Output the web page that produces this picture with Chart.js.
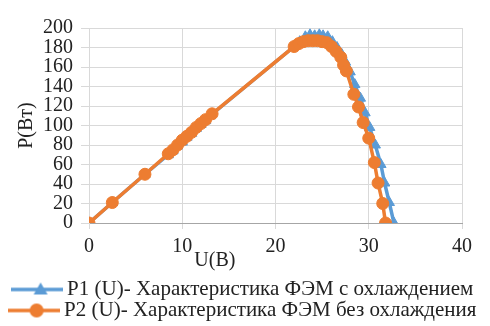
<!DOCTYPE html>
<html>
<head>
<meta charset="utf-8">
<script src="https://cdn.jsdelivr.net/npm/chart.js@4"></script>
<style>
  html, body { margin: 0; padding: 0; background: #fff; }
</style>
</head>
<body>
<canvas id="c" width="490" height="326"></canvas>
<script>
// P1 (U) - with cooling
const u1 = [0, 2.5, 6, 8.5, 9, 9.5, 10, 10.5, 11, 11.5, 12, 12.5, 13, 22, 22.6, 23.2, 23.7, 24.2, 24.7, 25.1, 25.6, 26.1, 26.6, 27.1, 27.5, 28, 28.5, 29.1, 29.6, 30.1, 30.7, 31.3, 31.7, 32.2, 32.7];
const p1 = [0, 21, 50, 70, 74, 79, 83, 88, 92, 97, 101, 105, 110, 181, 186, 191, 193, 192, 193, 192, 191, 186, 180, 173, 165, 155, 142, 128, 113, 98, 80, 60, 41, 21, 0];
// P2 (U) - without cooling
const u2 = [0, 2.5, 6, 8.5, 9, 9.5, 10, 10.5, 11, 11.5, 12, 12.5, 13.2, 22, 22.5, 23, 23.5, 24, 24.5, 25, 25.5, 26, 26.5, 27, 27.3, 27.6, 28.4, 28.9, 29.4, 30, 30.6, 31, 31.5, 31.8];
const p2 = [0, 21, 50, 71, 75, 80, 85, 89, 93, 98, 102, 106, 112, 181, 184, 186, 187, 187, 187, 186, 185, 181, 176, 170, 162, 156, 132, 119, 103, 87, 62, 41, 20, 0];

const xTicks = [0, 10, 20, 30, 40];
const yTicks = [0, 20, 40, 60, 80, 100, 120, 140, 160, 180, 200];
const seriesNames = ['P1 (U)- Характеристика ФЭМ с охлаждением', 'P2 (U)- Характеристика ФЭМ без охлаждения'];
const xTitle = 'U(В)';
const yTitle = 'P(Вт)';

const blue = '#5b9bd5';
const orange = '#ed7d31';
const FONT = "'Liberation Serif', serif";

function toPoints(us, ps) {
    return us.map((u, i) => ({ x: u, y: ps[i] }));
}

// line + marker icon for the legend
function legendIcon(color, style) {
    const c = document.createElement('canvas');
    c.width = 52; c.height = 16;
    const g = c.getContext('2d');
    g.strokeStyle = color;
    g.lineWidth = 3.5;
    g.beginPath(); g.moveTo(0, 8); g.lineTo(52, 8); g.stroke();
    g.fillStyle = color;
    g.beginPath();
    if (style === 'triangle') {
        g.moveTo(30, 1); g.lineTo(37, 13); g.lineTo(23, 13); g.closePath();
    } else {
        g.arc(29, 8, 7, 0, Math.PI * 2);
    }
    g.fill();
    return c;
}
const icons = [legendIcon(blue, 'triangle'), legendIcon(orange, 'circle')];

// x axis title sits left of centre in the original
const xTitlePlugin = {
    id: 'xTitle',
    afterDraw(chart) {
        const { ctx } = chart;
        ctx.save();
        ctx.font = '20px ' + FONT;
        ctx.fillStyle = '#222';
        ctx.textAlign = 'center';
        ctx.textBaseline = 'middle';
        ctx.fillText(xTitle, chart.scales.x.getPixelForValue(13.5), 261);
        ctx.restore();
    }
};

Chart.defaults.font.family = FONT;
Chart.defaults.font.size = 20;

new Chart(document.getElementById('c'), {
    type: 'line',
    data: {
        datasets: [
            {
                label: seriesNames[0],
                data: toPoints(u1, p1),
                borderColor: blue,
                backgroundColor: blue,
                borderWidth: 3.5,
                pointStyle: 'triangle',
                pointRadius: 6,
                pointBorderWidth: 1,
                order: 1
            },
            {
                label: seriesNames[1],
                data: toPoints(u2, p2),
                borderColor: orange,
                backgroundColor: orange,
                borderWidth: 3.5,
                pointStyle: 'circle',
                pointRadius: 6,
                pointBorderWidth: 1,
                order: 0
            }
        ]
    },
    options: {
        responsive: false,
        animation: false,
        layout: { padding: { top: 28, right: 0, left: 0, bottom: -5 } },
        plugins: {
            tooltip: { enabled: false },
            legend: {
                position: 'bottom',
                labels: {
                    usePointStyle: true,
                    pointStyleWidth: 40,
                    padding: 0,
                    color: '#222',
                    font: { family: FONT, size: 21 },
                    sort: (a, b) => a.datasetIndex - b.datasetIndex,
                    generateLabels(chart) {
                        const items = Chart.defaults.plugins.legend.labels.generateLabels(chart);
                        items.forEach(it => { it.pointStyle = icons[it.datasetIndex]; });
                        return items;
                    }
                }
            }
        },
        scales: {
            x: {
                type: 'linear',
                min: 0,
                max: 40,
                afterBuildTicks: s => { s.ticks = xTicks.map(v => ({ value: v })); },
                afterFit: s => { s.height = 56; },
                ticks: {
                    color: '#222',
                    padding: 6,
                    font: { family: FONT, size: 20 }
                },
                grid: { color: '#d9d9d9', tickLength: 6, tickColor: '#d9d9d9' },
                border: { color: '#a6a6a6' }
            },
            y: {
                min: 0,
                max: 200,
                afterBuildTicks: s => { s.ticks = yTicks.map(v => ({ value: v })); },
                afterFit: s => { s.width = 89; },
                ticks: {
                    autoSkip: false,
                    color: '#222',
                    padding: 8,
                    font: { family: FONT, size: 20 }
                },
                grid: { color: '#d9d9d9', tickLength: 8, tickColor: '#d9d9d9' },
                border: { color: '#d9d9d9' },
                title: {
                    display: true,
                    text: yTitle,
                    color: '#222',
                    padding: { top: 15, bottom: 0 },
                    font: { family: FONT, size: 20 }
                }
            },
            // empty right-hand space, so the legend stays centred on the page
            yRight: {
                position: 'right',
                min: 0,
                max: 200,
                afterFit: s => { s.width = 28; },
                ticks: { display: false },
                grid: { display: false, drawOnChartArea: false },
                border: { display: false }
            }
        }
    },
    plugins: [xTitlePlugin]
});
</script>
</body>
</html>
